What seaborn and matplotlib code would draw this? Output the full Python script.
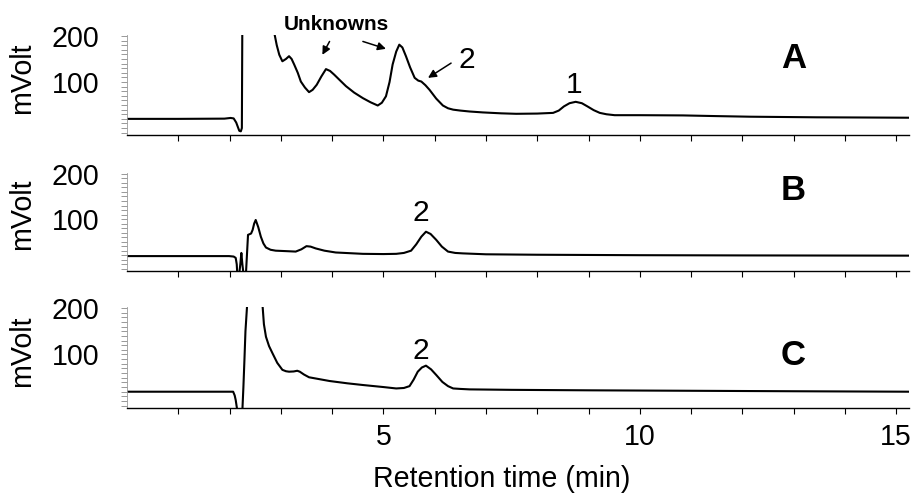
import matplotlib
matplotlib.use('Agg')
import matplotlib.pyplot as plt
import seaborn as sns
import pandas as pd
from matplotlib.ticker import MultipleLocator

# ---------------- data ----------------
tA = [0, 1.0, 1.9, 2.02, 2.08, 2.13, 2.19, 2.22, 2.24, 2.26, 2.85, 2.87, 2.92, 2.97, 3.03, 3.10,
      3.16, 3.21, 3.26, 3.33, 3.39, 3.47, 3.55, 3.62, 3.70, 3.79, 3.88, 3.96, 4.04, 4.15, 4.27,
      4.43, 4.60, 4.75, 4.89, 4.97, 5.05, 5.12, 5.18, 5.25, 5.31, 5.37, 5.44, 5.52, 5.61, 5.68,
      5.74, 5.82, 5.90, 6.03, 6.16, 6.26, 6.36, 6.50, 6.68, 6.94, 7.30, 7.59, 8.00, 8.31, 8.42,
      8.52, 8.63, 8.75, 8.87, 8.98, 9.10, 9.22, 9.35, 9.51, 10.0, 10.84, 11.5, 12.15, 13.45,
      14.3, 15.25]
vA = [20, 20, 20.5, 22, 21, 12, -6, -7, 0, 500, 500, 208, 180, 159, 145, 150,
      156, 150, 138, 120, 101, 88, 78, 83, 94, 112, 128, 124, 116, 104, 91,
      77, 65, 56, 49, 55, 69, 100, 138, 166, 181, 175, 156, 132, 109, 103,
      101, 93, 83, 64, 49, 43, 40, 38, 36, 34, 32, 31, 31.5, 33, 38,
      47, 54, 57, 54, 47, 39, 33, 30, 28, 28, 27.5, 26, 24.7, 23.4,
      23, 22.5]

tB = [0, 1.0, 1.99, 2.08, 2.12, 2.14, 2.15, 2.19, 2.21, 2.23, 2.25, 2.27, 2.32, 2.36, 2.42,
      2.45, 2.48, 2.51, 2.56, 2.61, 2.66, 2.71, 2.80, 2.90, 3.10, 3.29, 3.40, 3.50, 3.58, 3.68,
      3.85, 4.07, 4.60, 5.00, 5.25, 5.40, 5.54, 5.64, 5.74, 5.83, 5.92, 6.03, 6.14, 6.26, 6.40,
      6.55, 7.0, 8.0, 10.0, 12.0, 15.25]
vB = [18, 18, 18, 17, 14, 0, -20, -20, 0, 25, 0, -20, -20, 65, 68,
      76, 90, 98, 82, 61, 46, 37, 32, 30, 29, 28, 33, 40, 39, 35,
      30, 26, 23, 22.5, 23, 25, 30, 44, 61, 72, 67, 54, 39, 28, 25,
      24, 22, 21, 20, 19.5, 19]

tC = [0, 1.0, 1.99, 2.07, 2.10, 2.12, 2.15, 2.25, 2.27, 2.29, 2.31, 2.34, 2.36, 2.62, 2.64,
      2.67, 2.71, 2.77, 2.84, 2.93, 3.03, 3.10, 3.16, 3.25, 3.32, 3.37, 3.45, 3.55, 3.75, 3.95,
      4.30, 4.60, 5.00, 5.25, 5.40, 5.51, 5.59, 5.67, 5.75, 5.83, 5.93, 6.03, 6.15, 6.26, 6.36,
      6.50, 6.68, 7.5, 9.0, 11.0, 13.0, 15.25]
vC = [20, 20, 20, 20, 12, 2, -20, -20, 30, 88, 150, 202, 500, 500, 210,
      165, 138, 118, 102, 82, 67, 64, 63, 63.5, 65, 63, 57, 51, 47, 43,
      38, 34.4, 30, 27, 28, 32, 46, 63, 72, 76, 68, 56, 41, 32, 27,
      26, 25, 24, 23, 22, 21, 20]

panel_letters = ['A', 'B', 'C']
ytick_values = [100, 200]
ytick_labels = ['100', '200']
xtick_values = list(range(1, 16))
xtick_labels = ['' if v % 5 else str(v) for v in xtick_values]

# ---------------- style ----------------
sns.set_style('ticks')
plt.rcParams['font.family'] = ['Liberation Sans', 'DejaVu Sans']
plt.rcParams['text.color'] = 'black'
plt.rcParams['axes.labelcolor'] = 'black'
plt.rcParams['xtick.labelcolor'] = 'black'
plt.rcParams['ytick.labelcolor'] = 'black'

FS = 20.6
fig = plt.figure(figsize=(9.17, 4.95), dpi=100)
W, H = 917.0, 495.0
left = 127 / W
width = 782 / W
boxes = [(135, 100), (271, 98), (408, 101)]  # (bottom px, height px)

traces = [(tA, vA), (tB, vB), (tC, vC)]
axes = []
for i, ((t, v), (bpx, hpx)) in enumerate(zip(traces, boxes)):
    ax = fig.add_axes([left, 1 - bpx / H, width, hpx / H])
    df = pd.DataFrame({'t': t, 'v': v})
    sns.lineplot(data=df, x='t', y='v', ax=ax, color='black', lw=1.5,
                 sort=False, estimator=None)
    ax.set_xlim(0, 15.25)
    ax.set_ylim(-15, 202)
    ax.set_xlabel('')
    ax.set_ylabel('')
    ax.set_yticks(ytick_values)
    ax.set_yticklabels(ytick_labels)
    ax.yaxis.set_minor_locator(MultipleLocator(10))
    ax.set_xticks(xtick_values)
    if i == 2:
        ax.set_xticklabels(xtick_labels)
    else:
        ax.set_xticklabels([''] * len(xtick_values))
    for s in ['top', 'right']:
        ax.spines[s].set_visible(False)
    ax.spines['bottom'].set_color('black')
    ax.spines['bottom'].set_linewidth(1.0)
    ax.spines['left'].set_color('#9a9a9a')
    ax.spines['left'].set_linewidth(0.6)
    ax.tick_params(axis='x', which='major', direction='out', length=4, width=0.8,
                   color='black', labelcolor='black', labelsize=FS, pad=7)
    ax.tick_params(axis='y', which='both', direction='out', length=4, width=0.6,
                   color='#888888', labelcolor='black', labelsize=FS, pad=16)
    ax.set_facecolor('white')
    axes.append(ax)

# y labels
for yc in [78, 214, 351]:
    fig.text(22 / W, 1 - yc / H, 'mVolt', rotation=90, ha='center', va='center',
             fontsize=FS, color='black')

fig.text(502 / W, 1 - 487 / H, 'Retention time (min)', ha='center', va='baseline',
         fontsize=FS, color='black')

# panel letters
axA, axB, axC = axes
axA.text(13.0, 152, panel_letters[0], ha='center', va='center', fontsize=25, fontweight='bold', color='black')
axB.text(13.0, 164, panel_letters[1], ha='center', va='center', fontsize=25, fontweight='bold', color='black')
axC.text(13.0, 97, panel_letters[2], ha='center', va='center', fontsize=25, fontweight='bold', color='black')

# annotations panel A
axA.text(4.08, 224, 'Unknowns', ha='center', va='center', fontsize=15, fontweight='bold',
         color='black', clip_on=False)
ap = dict(arrowstyle='-|>', lw=1.1, color='black', mutation_scale=12, shrinkA=0, shrinkB=0)
axA.annotate('', xy=(3.81, 159), xytext=(3.95, 188), arrowprops=ap)
axA.annotate('', xy=(5.05, 172), xytext=(4.60, 188), arrowprops=ap)
axA.annotate('', xy=(5.87, 109), xytext=(6.32, 141), arrowprops=ap)
axA.text(6.62, 148, '2', ha='center', va='center', fontsize=21.6, color='black')
axA.text(8.71, 93.5, '1', ha='center', va='center', fontsize=21.6, color='black')

axB.text(5.72, 113, '2', ha='center', va='center', fontsize=21.6, color='black')
axC.text(5.72, 107.5, '2', ha='center', va='center', fontsize=21.6, color='black')

fig.savefig('out.png', dpi=100, facecolor='white')
